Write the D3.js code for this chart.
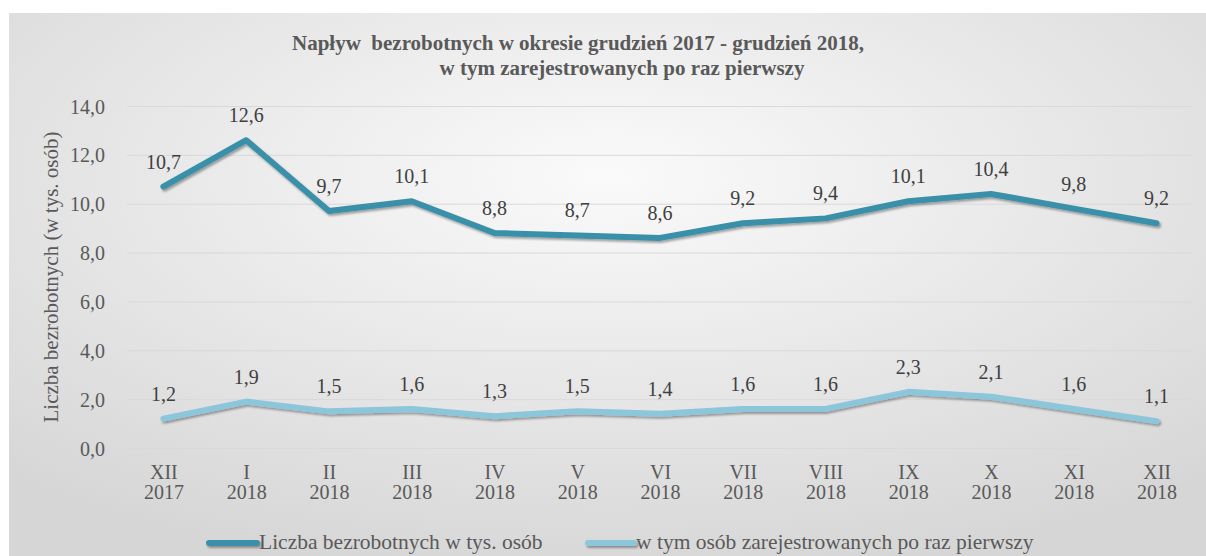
<!DOCTYPE html>
<html>
<head>
<meta charset="utf-8">
<script src="https://cdn.jsdelivr.net/npm/d3@7"></script>
<style>
  html, body { margin: 0; padding: 0; background: #fff; }
  svg { display: block; font-family: "Liberation Serif", "DejaVu Serif", serif; }
</style>
</head>
<body>
<div id="chart"></div>
<script>
// Napływ bezrobotnych XII 2017 – XII 2018
const months = ['XII', 'I', 'II', 'III', 'IV', 'V', 'VI', 'VII', 'VIII', 'IX', 'X', 'XI', 'XII'];
const years = ['2017', '2018', '2018', '2018', '2018', '2018', '2018', '2018', '2018', '2018', '2018', '2018', '2018'];
const bezrobotni = [10.7, 12.6, 9.7, 10.1, 8.8, 8.7, 8.6, 9.2, 9.4, 10.1, 10.4, 9.8, 9.2];
const pierwszyRaz = [1.2, 1.9, 1.5, 1.6, 1.3, 1.5, 1.4, 1.6, 1.6, 2.3, 2.1, 1.6, 1.1];
const yTicks = [0, 2, 4, 6, 8, 10, 12, 14];

const SERIES = [
  { label: 'Liczba bezrobotnych w tys. osób', values: bezrobotni, color: '#3a90a9' },
  { label: 'w tym osób zarejestrowanych po raz pierwszy', values: pierwszyRaz, color: '#8cc6da' }
];

const W = 1206, H = 556;
const TEXT = '#595959';
const fmt = (v) => d3.format('.1f')(v).replace('.', ',');

const svg = d3.select('#chart').append('svg')
  .attr('width', W)
  .attr('height', H)
  .attr('viewBox', `0 0 ${W} ${H}`);

const defs = svg.append('defs');
const grad = defs.append('radialGradient')
  .attr('id', 'bg')
  .attr('cx', '50%').attr('cy', '30%').attr('r', '75%');
grad.append('stop').attr('offset', '0%').attr('stop-color', '#fafafa');
grad.append('stop').attr('offset', '100%').attr('stop-color', '#d6d6d6');

// userSpaceOnUse so that flat legend lines keep their shadow
defs.append('filter')
  .attr('id', 'shadow')
  .attr('filterUnits', 'userSpaceOnUse')
  .attr('x', 0).attr('y', 0).attr('width', W).attr('height', H)
  .append('feDropShadow')
  .attr('dx', 1.5).attr('dy', 2)
  .attr('stdDeviation', 1.3)
  .attr('flood-color', '#000')
  .attr('flood-opacity', 0.35);

svg.append('rect')
  .attr('x', 9).attr('y', 13)
  .attr('width', W - 9).attr('height', H - 13)
  .attr('fill', 'url(#bg)');

const x = d3.scalePoint()
  .domain(d3.range(months.length))
  .range([122, 1198])
  .padding(0.5);

const y = d3.scaleLinear()
  .domain([0, 14])
  .range([448, 106]);

// title
const title = svg.append('text')
  .attr('fill', TEXT)
  .attr('font-weight', 'bold')
  .style('font-size', '21px')
  .style('white-space', 'pre')
  .attr('text-anchor', 'middle');
title.append('tspan').attr('x', 578).attr('y', 50)
  .text('Napływ  bezrobotnych w okresie grudzień 2017 - grudzień 2018,');
title.append('tspan').attr('x', 622).attr('y', 75)
  .text('w tym zarejestrowanych po raz pierwszy');

// grid
svg.append('g')
  .attr('transform', 'translate(127,0)')
  .call(d3.axisLeft(y).tickValues(yTicks).tickSize(-1066).tickFormat(''))
  .call((g) => g.select('.domain').remove())
  .call((g) => g.selectAll('line').attr('stroke', '#d9d9d9').attr('stroke-width', 1));

// y axis labels
svg.append('g')
  .attr('transform', 'translate(110,0)')
  .call(d3.axisLeft(y).tickValues(yTicks).tickSize(0).tickPadding(5).tickFormat(fmt))
  .call((g) => g.select('.domain').remove())
  .call((g) => g.selectAll('text')
    .attr('fill', TEXT)
    .attr('dy', '0.35em')
    .style('font-family', '"Liberation Serif", serif')
    .style('font-size', '20px'));

svg.append('text')
  .attr('transform', 'translate(58,277) rotate(-90)')
  .attr('text-anchor', 'middle')
  .attr('fill', TEXT)
  .style('font-size', '21px')
  .text('Liczba bezrobotnych (w tys. osób)');

// x axis labels
const xAxis = svg.append('g')
  .attr('transform', 'translate(0,448)')
  .call(d3.axisBottom(x).tickSize(0).tickFormat(''))
  .call((g) => g.select('.domain').remove());

xAxis.selectAll('.tick').each(function (i) {
  const t = d3.select(this).append('text')
    .attr('fill', TEXT)
    .attr('text-anchor', 'middle')
    .style('font-family', '"Liberation Serif", serif')
    .style('font-size', '20px');
  t.append('tspan').attr('x', 0).attr('y', 31).text(months[i]);
  t.append('tspan').attr('x', 0).attr('y', 51).text(years[i]);
});

// lines + labels
const lineGen = (vals) => d3.line()
  .x((d, i) => x(i))
  .y((d) => y(d))(vals);

for (const s of SERIES) {
  svg.append('path')
    .attr('d', lineGen(s.values))
    .attr('fill', 'none')
    .attr('stroke', s.color)
    .attr('stroke-width', 6)
    .attr('stroke-linejoin', 'round')
    .attr('stroke-linecap', 'round')
    .attr('filter', 'url(#shadow)');

  svg.append('g')
    .selectAll('text')
    .data(s.values)
    .join('text')
    .attr('x', (d, i) => x(i))
    .attr('y', (d) => y(d) - 18)
    .attr('text-anchor', 'middle')
    .attr('fill', '#404040')
    .style('font-size', '20px')
    .text(fmt);
}

// legend
const LEGEND = [
  { x1: 209, x2: 257 },
  { x1: 588, x2: 634 }
];
SERIES.forEach((s, i) => {
  const lg = svg.append('g');
  lg.append('line')
    .attr('x1', LEGEND[i].x1).attr('x2', LEGEND[i].x2)
    .attr('y1', 543).attr('y2', 543)
    .attr('stroke', s.color)
    .attr('stroke-width', 6)
    .attr('stroke-linecap', 'round')
    .attr('filter', 'url(#shadow)');
  lg.append('text')
    .attr('x', LEGEND[i].x2 + 2)
    .attr('y', 549)
    .attr('fill', TEXT)
    .style('font-size', '21.5px')
    .text(s.label);
});
</script>
</body>
</html>
